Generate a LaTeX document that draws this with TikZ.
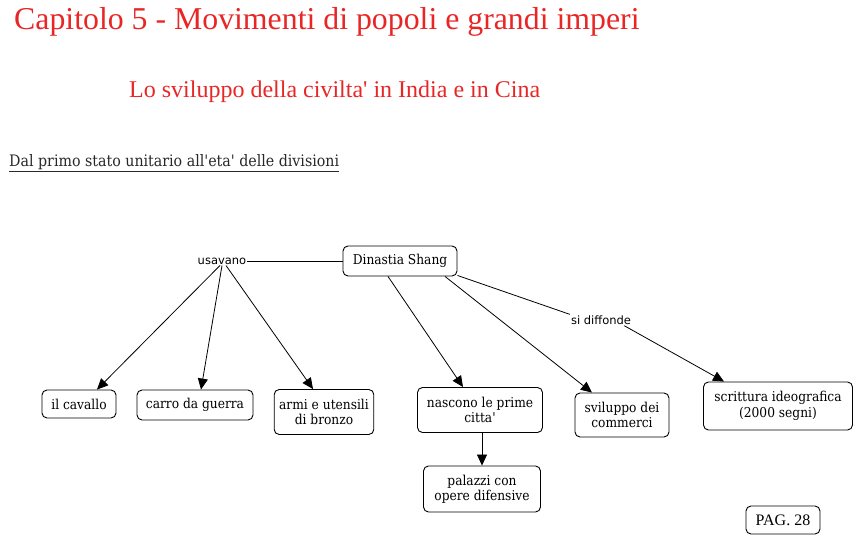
\documentclass[tikz,border=0pt]{standalone}
\usepackage{fontspec}
\setmainfont{DejaVu Serif Condensed}
\newfontfamily\titlefont{Liberation Serif}
\newfontfamily\labfont{DejaVu Sans}
\usetikzlibrary{arrows.meta}
\definecolor{titlered}{RGB}{232,38,38}
\definecolor{headgray}{RGB}{40,40,40}
\newcommand\ap{\textquotesingle}
\begin{document}
\begin{tikzpicture}[x=1pt,y=-1pt,
  box/.style={draw,rounded corners=5pt,line width=0.9pt,align=center,
    font=\fontsize{13.6}{15.5}\selectfont,inner sep=2pt},
  lab/.style={font=\labfont\fontsize{11.5}{13}\selectfont,inner sep=1pt},
  arr/.style={-{Triangle[length=11pt,width=10pt]},line width=0.8pt},
  ln/.style={line width=0.8pt}]
\useasboundingbox (0,0) rectangle (855,537);
% titles
\node[anchor=west,text=titlered,font=\titlefont\fontsize{31.8}{34}\selectfont,inner sep=0pt] (title) at (14,22) {Capitolo 5 - Movimenti di popoli e grandi imperi};
\node[anchor=west,text=titlered,font=\titlefont\fontsize{24}{26}\selectfont,inner sep=0pt] (subtitle) at (129,92) {Lo sviluppo della civilta\ap{} in India e in Cina};
\node[anchor=west,text=headgray,font=\fontsize{15.8}{18}\selectfont,inner sep=0pt] (head) at (9,163) {\underline{Dal primo stato unitario all\ap{}eta\ap{} delle divisioni}};
% nodes
\node[box,minimum width=114pt,minimum height=30pt] (shang) at (400,261) {Dinastia Shang};
\node[lab] (usavano) at (222,261) {usavano};
\node[lab] (diffonde) at (601,320) {si diffonde};
\node[box,minimum width=74pt,minimum height=28pt] (cavallo) at (79,404) {il cavallo};
\node[box,minimum width=116pt,minimum height=30pt] (carro) at (195,405) {carro da guerra};
\node[box,minimum width=97pt,minimum height=45pt,inner xsep=5pt] (armi) at (324,412) {armi e utensili\\di bronzo};
\node[box,minimum width=125pt,minimum height=45pt] (nascono) at (480,410) {nascono le prime\\citta\ap};
\node[box,minimum width=94pt,minimum height=44pt] (sviluppo) at (622,415) {sviluppo dei\\commerci};
\node[box,minimum width=149pt,minimum height=48pt] (scrittura) at (778,406) {scrittura ideografica\\(2000 segni)};
\node[box,minimum width=117pt,minimum height=46pt] (palazzi) at (482,489) {palazzi con\\opere difensive};
\node[box,minimum width=74pt,minimum height=28pt,font=\titlefont\fontsize{16}{18}\selectfont] (pag) at (783,520) {PAG. 28};
% connectors
\draw[ln] (shang.west) -- (usavano.east);
\draw[arr] ([xshift=-2pt]usavano.south) -- (cavallo.north -| 97,0);
\draw[arr] (usavano.south) -- (carro.north -| 201,0);
\draw[arr] ([xshift=4pt]usavano.south) -- (armi.north -| 313,0);
\draw[arr] (shang.south -| 388,0) -- (nascono.north -| 463,0);
\draw[arr] (shang.south -| 445,0) -- (sviluppo.north -| 592,0);
\draw[ln] ([yshift=1pt]shang.south east) -- (diffonde.north west);
\draw[arr] ([xshift=-8pt]diffonde.south east) -- ([xshift=21pt]scrittura.north west);
\draw[arr] (nascono.south -| palazzi.north) -- (palazzi.north);
\end{tikzpicture}
\end{document}
